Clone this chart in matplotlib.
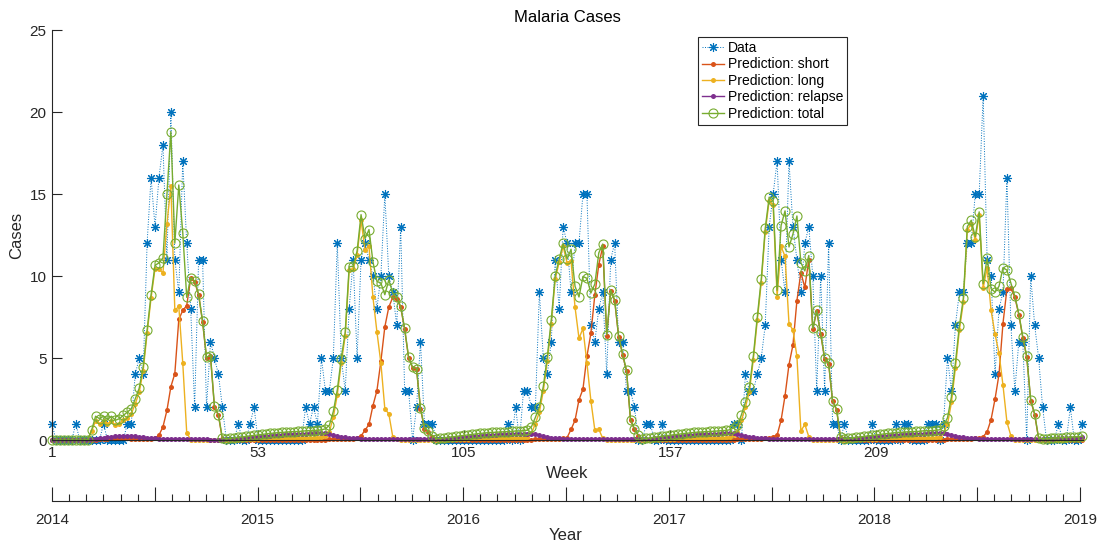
import numpy as np
import matplotlib
matplotlib.use("Agg")
import matplotlib.pyplot as plt

plt.rcParams['font.family'] = ['Liberation Sans', 'DejaVu Sans']

# weekly malaria cases, Jan 2014 - Jan 2019
weeks = np.arange(1, 262)

cases = [
    1, 0, 0, 0, 0, 0, 1, 0, 0, 0,
    0, 0, 0, 1, 0, 0, 0, 0, 0, 1,
    1, 4, 5, 4, 12, 16, 13, 16, 18, 11,
    20, 11, 9, 17, 12, 8, 2, 11, 11, 2,
    6, 5, 4, 2, 0, 0, 0, 1, 0, 0,
    1, 2, 0, 0, 0, 0, 0, 0, 0, 0,
    0, 0, 0, 0, 2, 1, 2, 1, 5, 3,
    3, 5, 12, 5, 3, 8, 11, 5, 11, 12,
    11, 10, 8, 10, 15, 10, 9, 7, 13, 3,
    3, 0, 2, 6, 1, 1, 1, 0, 0, 0,
    0, 0, 0, 0, 0, 0, 0, 0, 0, 0,
    0, 0, 0, 0, 0, 1, 0, 2, 0, 3,
    3, 2, 2, 9, 5, 4, 6, 11, 8, 13,
    12, 9, 12, 12, 15, 15, 7, 6, 8, 9,
    4, 11, 12, 6, 6, 3, 3, 2, 0, 0,
    1, 1, 0, 0, 1, 0, 0, 0, 0, 0,
    0, 0, 0, 0, 0, 0, 0, 0, 0, 0,
    0, 0, 1, 1, 0, 4, 3, 3, 4, 5,
    7, 13, 15, 17, 11, 9, 17, 13, 11, 9,
    12, 13, 10, 3, 10, 3, 12, 1, 1, 0,
    1, 0, 0, 0, 0, 0, 0, 1, 0, 0,
    0, 0, 0, 1, 0, 1, 1, 0, 0, 0,
    0, 1, 1, 1, 0, 1, 5, 3, 7, 9,
    9, 12, 12, 15, 15, 21, 11, 10, 4, 8,
    9, 16, 7, 3, 6, 6, 0, 10, 7, 5,
    2, 0, 0, 0, 1, 0, 0, 2, 0, 0, 1,
]

pred_short = [
    0, 0, 0, 0, 0, 0, 0, 0, 0, 0,
    0, 0.02, 0.04, 0.06, 0.08, 0.1, 0.1, 0.1, 0.1, 0.1,
    0.08, 0.06, 0.05, 0.05, 0.05, 0.05, 0.1, 0.3, 0.8, 1.8,
    3.25, 4.05, 7.35, 7.9, 8.2, 9.85, 9.65, 8.85, 7.2, 5.0,
    5.1, 2.0, 1.5, 0.05, 0.01, 0.01, 0.01, 0.01, 0.01, 0.01,
    0.01, 0.01, 0.01, 0.01, 0.02, 0.02, 0.02, 0.02, 0.02, 0.02,
    0.02, 0.02, 0.02, 0.02, 0.03, 0.03, 0.03, 0.03, 0.03, 0.03,
    0.04, 0.04, 0.05, 0.06, 0.07, 0.08, 0.09, 0.12, 0.25, 0.6,
    0.95, 2.1, 3.0, 4.8, 6.9, 8.1, 8.7, 8.6, 8.1, 6.75,
    5.0, 4.4, 4.3, 1.9, 0.7, 0.5, 0.2, 0.02, 0.01, 0.01,
    0.01, 0.01, 0.01, 0.01, 0.01, 0.01, 0.01, 0.02, 0.02, 0.02,
    0.02, 0.02, 0.02, 0.02, 0.02, 0.02, 0.02, 0.03, 0.03, 0.03,
    0.03, 0.03, 0.04, 0.04, 0.05, 0.06, 0.07, 0.08, 0.09, 0.1,
    0.15, 0.65, 1.2, 2.45, 3.1, 5.1, 6.5, 8.85, 10.7, 11.8,
    6.35, 9.1, 8.5, 6.3, 5.2, 4.2, 1.2, 0.65, 0.25, 0.02,
    0.01, 0.01, 0.01, 0.01, 0.01, 0.01, 0.01, 0.01, 0.01, 0.02,
    0.02, 0.02, 0.02, 0.02, 0.02, 0.02, 0.02, 0.02, 0.02, 0.03,
    0.03, 0.03, 0.03, 0.04, 0.04, 0.05, 0.06, 0.07, 0.08, 0.09,
    0.1, 0.12, 0.2, 0.3, 1.2, 2.7, 4.6, 5.8, 8.5, 10.2,
    9.3, 11.0, 6.75, 7.85, 6.45, 4.95, 4.65, 2.35, 1.85, 0.15,
    0.02, 0.01, 0.01, 0.01, 0.01, 0.01, 0.01, 0.01, 0.01, 0.01,
    0.02, 0.02, 0.02, 0.02, 0.02, 0.02, 0.02, 0.02, 0.02, 0.02,
    0.03, 0.03, 0.03, 0.03, 0.03, 0.03, 0.04, 0.04, 0.05, 0.06,
    0.07, 0.08, 0.09, 0.1, 0.12, 0.2, 0.5, 1.25, 2.5, 4.0,
    7.1, 9.2, 9.25, 8.7, 7.65, 6.25, 5.05, 2.4, 1.55, 0.08,
    0.01, 0.01, 0.01, 0.01, 0.01, 0.01, 0.01, 0.01, 0.01, 0.01, 0.01,
]

pred_long = [
    0, 0, 0, 0, 0, 0, 0, 0, 0, 0,
    0.55, 1.15, 1.0, 1.15, 0.95, 1.15, 0.9, 1.0, 1.2, 1.35,
    1.6, 2.2, 2.9, 4.2, 6.5, 8.65, 10.45, 10.4, 10.2, 13.15,
    15.5, 7.9, 8.15, 4.7, 0.45, 0.02, 0, 0, 0, 0,
    0, 0, 0, 0, 0.01, 0.02, 0.03, 0.04, 0.05, 0.06,
    0.07, 0.08, 0.09, 0.1, 0.1, 0.11, 0.11, 0.12, 0.12, 0.12,
    0.13, 0.13, 0.13, 0.13, 0.14, 0.14, 0.14, 0.15, 0.18, 0.25,
    0.5, 1.4, 2.75, 4.7, 6.35, 10.35, 10.4, 11.3, 13.4, 11.6,
    11.8, 8.7, 6.6, 4.7, 1.9, 1.6, 0.2, 0.05, 0, 0,
    0, 0, 0, 0, 0, 0, 0, 0.01, 0.02, 0.03,
    0.04, 0.05, 0.06, 0.07, 0.08, 0.09, 0.1, 0.1, 0.11, 0.11,
    0.12, 0.12, 0.12, 0.13, 0.13, 0.13, 0.13, 0.14, 0.14, 0.15,
    0.18, 0.4, 1.0, 1.7, 3.0, 4.8, 7.1, 9.8, 10.85, 11.8,
    10.8, 10.9, 8.1, 6.2, 6.8, 4.7, 2.4, 0.6, 0.65, 0.1,
    0.02, 0, 0, 0, 0, 0, 0, 0, 0, 0.01,
    0.02, 0.03, 0.04, 0.05, 0.06, 0.07, 0.08, 0.09, 0.1, 0.1,
    0.11, 0.11, 0.12, 0.12, 0.12, 0.13, 0.13, 0.13, 0.14, 0.14,
    0.15, 0.18, 0.3, 0.5, 1.2, 2.0, 2.95, 4.9, 7.3, 9.6,
    12.7, 14.6, 14.3, 8.75, 11.8, 11.2, 7.1, 6.7, 5.1, 0.55,
    0.95, 0.2, 0, 0, 0, 0, 0, 0, 0, 0,
    0.01, 0.02, 0.03, 0.04, 0.05, 0.06, 0.07, 0.08, 0.09, 0.1,
    0.1, 0.11, 0.11, 0.12, 0.12, 0.12, 0.13, 0.13, 0.13, 0.13,
    0.14, 0.14, 0.14, 0.15, 0.18, 0.45, 0.95, 2.3, 4.4, 6.7,
    8.4, 12.8, 13.2, 12.2, 13.7, 9.25, 10.5, 7.9, 6.45, 5.3,
    3.35, 1.1, 0.25, 0.02, 0, 0, 0, 0, 0, 0,
    0.01, 0.01, 0.02, 0.02, 0.03, 0.03, 0.03, 0.04, 0.04, 0.04, 0.05,
]

pred_relapse = [
    0, 0, 0, 0, 0, 0, 0, 0, 0, 0.02,
    0.05, 0.08, 0.11, 0.14, 0.17, 0.2, 0.22, 0.24, 0.25, 0.25,
    0.24, 0.22, 0.2, 0.17, 0.15, 0.12, 0.1, 0.09, 0.08, 0.07,
    0.07, 0.06, 0.06, 0.05, 0.05, 0.05, 0.04, 0.04, 0.04, 0.04,
    0.03, 0.03, 0.03, 0.03, 0.05, 0.07, 0.09, 0.11, 0.13, 0.15,
    0.17, 0.19, 0.21, 0.23, 0.25, 0.27, 0.29, 0.31, 0.32, 0.34,
    0.35, 0.36, 0.37, 0.38, 0.39, 0.4, 0.4, 0.41, 0.41, 0.4,
    0.36, 0.3, 0.25, 0.2, 0.16, 0.13, 0.11, 0.1, 0.09, 0.08,
    0.08, 0.07, 0.07, 0.07, 0.06, 0.06, 0.06, 0.06, 0.05, 0.05,
    0.05, 0.05, 0.05, 0.05, 0.05, 0.05, 0.04, 0.05, 0.07, 0.09,
    0.11, 0.13, 0.15, 0.17, 0.19, 0.21, 0.23, 0.25, 0.27, 0.29,
    0.31, 0.32, 0.33, 0.34, 0.35, 0.36, 0.37, 0.38, 0.38, 0.39,
    0.39, 0.38, 0.34, 0.28, 0.23, 0.19, 0.15, 0.12, 0.1, 0.09,
    0.08, 0.08, 0.07, 0.07, 0.07, 0.06, 0.06, 0.06, 0.06, 0.05,
    0.05, 0.05, 0.05, 0.05, 0.05, 0.05, 0.05, 0.04, 0.04, 0.05,
    0.07, 0.09, 0.11, 0.14, 0.16, 0.18, 0.2, 0.22, 0.24, 0.26,
    0.28, 0.3, 0.32, 0.34, 0.35, 0.36, 0.37, 0.38, 0.39, 0.4,
    0.4, 0.41, 0.4, 0.36, 0.3, 0.25, 0.2, 0.16, 0.13, 0.11,
    0.1, 0.09, 0.08, 0.08, 0.07, 0.07, 0.07, 0.06, 0.06, 0.06,
    0.06, 0.05, 0.05, 0.05, 0.05, 0.05, 0.05, 0.05, 0.05, 0.04,
    0.05, 0.07, 0.09, 0.11, 0.13, 0.15, 0.17, 0.19, 0.21, 0.23,
    0.25, 0.27, 0.29, 0.31, 0.32, 0.34, 0.35, 0.36, 0.37, 0.38,
    0.39, 0.4, 0.4, 0.41, 0.41, 0.4, 0.36, 0.3, 0.25, 0.2,
    0.16, 0.13, 0.11, 0.1, 0.09, 0.08, 0.08, 0.07, 0.07, 0.07,
    0.06, 0.06, 0.06, 0.06, 0.05, 0.05, 0.05, 0.05, 0.05, 0.04,
    0.05, 0.06, 0.08, 0.09, 0.1, 0.11, 0.12, 0.13, 0.14, 0.15, 0.16,
]

pred_total = [
    0, 0, 0, 0, 0, 0, 0, 0, 0, 0.02,
    0.6, 1.45, 1.3, 1.45, 1.25, 1.45, 1.2, 1.3, 1.5, 1.7,
    1.9, 2.5, 3.15, 4.45, 6.7, 8.85, 10.65, 10.8, 11.1, 15.0,
    18.8, 12.0, 15.55, 12.65, 8.7, 9.9, 9.7, 8.9, 7.25, 5.05,
    5.15, 2.05, 1.55, 0.1, 0.07, 0.1, 0.13, 0.16, 0.19, 0.22,
    0.25, 0.28, 0.31, 0.34, 0.37, 0.4, 0.42, 0.45, 0.46, 0.48,
    0.5, 0.51, 0.52, 0.53, 0.56, 0.57, 0.57, 0.59, 0.62, 0.68,
    0.9, 1.74, 3.05, 4.96, 6.58, 10.56, 10.6, 11.52, 13.74, 12.28,
    12.83, 10.87, 9.67, 9.57, 8.86, 9.76, 8.96, 8.71, 8.15, 6.8,
    5.05, 4.45, 4.35, 1.95, 0.75, 0.55, 0.24, 0.08, 0.1, 0.13,
    0.16, 0.19, 0.22, 0.25, 0.28, 0.31, 0.34, 0.37, 0.4, 0.42,
    0.45, 0.46, 0.47, 0.49, 0.5, 0.51, 0.52, 0.55, 0.55, 0.57,
    0.6, 0.81, 1.38, 2.02, 3.28, 5.05, 7.32, 10.0, 11.04, 11.99,
    11.03, 11.63, 9.37, 8.72, 9.97, 9.86, 8.96, 9.51, 11.41, 11.95,
    6.42, 9.15, 8.55, 6.35, 5.25, 4.25, 1.25, 0.69, 0.29, 0.08,
    0.1, 0.13, 0.16, 0.2, 0.23, 0.26, 0.29, 0.32, 0.35, 0.38,
    0.41, 0.43, 0.46, 0.48, 0.49, 0.51, 0.52, 0.53, 0.55, 0.57,
    0.58, 0.62, 0.73, 0.9, 1.54, 2.3, 3.21, 5.13, 7.51, 9.8,
    12.9, 14.81, 14.58, 9.13, 13.07, 13.97, 11.77, 12.56, 13.66, 10.81,
    10.31, 11.25, 6.8, 7.9, 6.5, 5.0, 4.7, 2.4, 1.9, 0.19,
    0.08, 0.1, 0.13, 0.16, 0.19, 0.22, 0.25, 0.28, 0.31, 0.34,
    0.37, 0.4, 0.42, 0.45, 0.46, 0.48, 0.5, 0.51, 0.52, 0.53,
    0.56, 0.57, 0.57, 0.59, 0.62, 0.88, 1.35, 2.64, 4.7, 6.96,
    8.63, 13.01, 13.4, 12.4, 13.91, 9.53, 11.08, 9.22, 9.02, 9.37,
    10.51, 10.36, 9.56, 8.78, 7.7, 6.3, 5.1, 2.45, 1.6, 0.12,
    0.07, 0.08, 0.11, 0.12, 0.14, 0.15, 0.16, 0.18, 0.19, 0.2, 0.22,
]

week_ticks = [1, 53, 105, 157, 209]
years = [2014, 2015, 2016, 2017, 2018, 2019]

# matlab default colours
c_blue = '#0072BD'
c_red = '#D95319'
c_yel = '#EDB120'
c_pur = '#7E2F8E'
c_grn = '#77AC30'
c_axis = '#262626'

fig = plt.figure(figsize=(11.02, 5.44), dpi=100)
ax = fig.add_axes([52/1102, 104/544, 1031/1102, 410/544])

ax.plot(weeks, cases, linestyle=(0, (1, 1.6)), lw=0.7, color=c_blue,
        marker=(8, 2, 0), ms=6.5, mew=0.8, label='Data', clip_on=False)
ax.plot(weeks, pred_short, '-', color=c_red, lw=1, marker='o', ms=3.6,
        mew=0, label='Prediction: short', clip_on=False)
ax.plot(weeks, pred_long, '-', color=c_yel, lw=1, marker='o', ms=3.6,
        mew=0, label='Prediction: long', clip_on=False)
ax.plot(weeks, pred_relapse, '-', color=c_pur, lw=1, marker='o', ms=3.6,
        mew=0, label='Prediction: relapse', clip_on=False)
ax.plot(weeks, pred_total, '-', color=c_grn, lw=1, marker='o', ms=6.5,
        mfc='none', mew=0.8, label='Prediction: total', clip_on=False)

ax.set_xlim(1, 261.2)
ax.set_ylim(0, 25)
ax.set_xticks(week_ticks)
ax.set_yticks(np.arange(0, 26, 5))
for s in ['top', 'right']:
    ax.spines[s].set_visible(False)
for s in ['left', 'bottom']:
    ax.spines[s].set_color(c_axis)
    ax.spines[s].set_linewidth(0.8)
ax.tick_params(direction='in', length=7, width=0.8, colors=c_axis,
               labelsize=11, pad=4)
ax.set_xlabel('Week', fontsize=12, color=c_axis, labelpad=5)
ax.set_ylabel('Cases', fontsize=12, color=c_axis, labelpad=4)
ax.set_title('Malaria Cases', fontsize=12, color='black', pad=6)

leg = ax.legend(loc='upper left', bbox_to_anchor=(0.6266, 0.983),
                borderaxespad=0, fontsize=10, frameon=True, fancybox=False,
                framealpha=1, edgecolor=c_axis, labelspacing=0.17,
                handlelength=1.55, handletextpad=0.3, borderpad=0.3)
leg.get_frame().set_linewidth(0.8)

# second axis with calendar years
ax2 = fig.add_axes([52/1102, 43/544, 1028/1102, 0.0001])
ax2.patch.set_visible(False)
for s in ['top', 'left', 'right']:
    ax2.spines[s].set_visible(False)
ax2.spines['bottom'].set_color(c_axis)
ax2.spines['bottom'].set_linewidth(0.8)
ax2.set_yticks([])
ax2.set_xlim(years[0], years[-1])
half = np.arange(years[0], years[-1] + 0.01, 0.5)
ax2.set_xticks(half)
ax2.set_xticklabels([str(int(h)) if h % 1 == 0 else '' for h in half])
ax2.set_xticks(np.arange(years[0], years[-1], 1/12), minor=True)
ax2.tick_params(which='major', direction='in', length=10, width=0.8,
                colors=c_axis, labelsize=11, pad=9)
ax2.tick_params(which='minor', direction='in', length=5, width=0.8,
                colors=c_axis)
ax2.set_xlabel('Year', fontsize=12, color=c_axis, labelpad=0)

fig.savefig('out.png', dpi=100)
